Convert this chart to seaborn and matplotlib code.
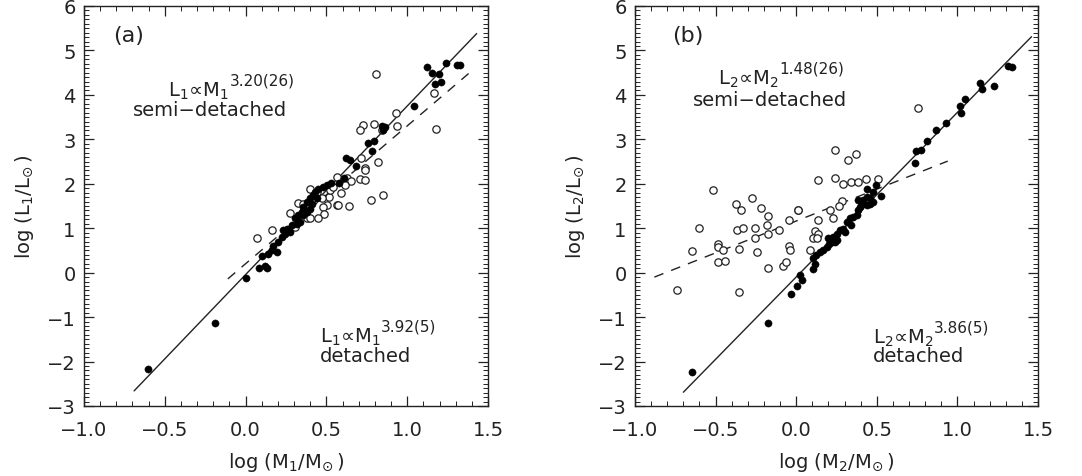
import numpy as np
import pandas as pd
import matplotlib
matplotlib.use("Agg")
import matplotlib.pyplot as plt
import seaborn as sns
from matplotlib.ticker import MultipleLocator

# ---------------- data ----------------
# Panel (a): primary components
a_det_x = [-0.606, -0.189, 0.002, 0.085, 0.120, 0.131, 0.100, 0.141, 0.162, 0.193, 0.171, 0.202,
           0.223, 0.244, 0.254, 0.275, 0.233, 0.285, 0.306, 0.326, 0.347, 0.357, 0.378, 0.398,
           0.419, 0.429, 0.450, 0.481, 0.502, 0.357, 0.337, 0.316, 0.408, 0.440, 0.398, 0.378,
           0.530, 0.580, 0.609, 0.619, 0.646, 0.681, 0.760, 0.780, 0.797, 0.842, 0.863, 0.852,
           1.042, 1.121, 1.151, 1.197, 1.238, 1.306, 1.327, 1.172, 1.209]
a_det_y = [-2.16, -1.13, -0.12, 0.11, 0.16, 0.11, 0.37, 0.43, 0.50, 0.47, 0.61, 0.69,
           0.80, 0.88, 0.99, 0.92, 0.95, 1.07, 1.22, 1.29, 1.37, 1.48, 1.59, 1.67,
           1.74, 1.82, 1.89, 1.93, 1.97, 1.29, 1.14, 1.10, 1.55, 1.68, 1.44, 1.37,
           2.02, 2.02, 2.14, 2.58, 2.53, 2.39, 2.91, 2.74, 2.97, 3.30, 3.28, 3.22,
           3.75, 4.62, 4.50, 4.47, 4.71, 4.67, 4.67, 4.24, 4.28]
a_semi_x = [0.072, 0.161, 0.807, 0.929, 0.729, 0.705, 0.797, 0.935, 1.166, 1.178, 0.842, 0.714,
            0.817, 0.739, 0.739, 0.708, 0.739, 0.564, 0.626, 0.650, 0.615, 0.588, 0.776, 0.852,
            0.641, 0.564, 0.574, 0.518, 0.506, 0.477, 0.485, 0.450, 0.398, 0.326, 0.353, 0.275,
            0.382, 0.398, 0.347, 0.306, 0.522, 0.543, 0.440, 0.471]
a_semi_y = [0.79, 0.95, 4.47, 3.60, 3.32, 3.22, 3.34, 3.30, 4.05, 3.24, 3.21, 2.57,
            2.49, 2.36, 2.32, 2.10, 2.09, 2.16, 2.13, 2.06, 1.97, 1.80, 1.64, 1.74,
            1.49, 1.53, 1.52, 1.70, 1.52, 1.48, 1.31, 1.22, 1.88, 1.57, 1.55, 1.34,
            1.22, 1.23, 1.33, 1.03, 1.85, 1.93, 1.82, 1.67]

# Panel (b): secondary components
b_det_x = [-0.648, -0.173, -0.034, 0.003, 0.038, 0.024, 0.106, 0.117, 0.106, 0.123, 0.148, 0.168,
           0.189, 0.205, 0.220, 0.241, 0.251, 0.199, 0.230, 0.251, 0.272, 0.292, 0.303, 0.313,
           0.334, 0.354, 0.375, 0.340, 0.385, 0.396, 0.406, 0.416, 0.385, 0.437, 0.458, 0.478,
           0.437, 0.458, 0.441, 0.478, 0.495, 0.526, 0.737, 0.743, 0.774, 0.809, 0.865, 0.929,
           1.016, 1.022, 1.047, 1.140, 1.155, 1.229, 1.316, 1.337]
b_det_y = [-2.24, -1.13, -0.47, -0.29, -0.17, -0.06, 0.09, 0.20, 0.32, 0.39, 0.47, 0.50,
           0.58, 0.65, 0.70, 0.69, 0.73, 0.77, 0.80, 0.88, 0.95, 0.99, 0.92, 1.14,
           1.22, 1.25, 1.29, 1.07, 1.40, 1.48, 1.55, 1.63, 1.63, 1.52, 1.55, 1.59,
           1.70, 1.67, 1.89, 1.82, 1.98, 1.73, 2.47, 2.74, 2.77, 2.97, 3.21, 3.37,
           3.75, 3.60, 3.90, 4.27, 4.13, 4.20, 4.66, 4.63]
b_semi_x = [-0.514, -0.603, -0.648, -0.738, -0.483, -0.483, -0.452, -0.483, -0.442, -0.373, -0.342,
            -0.272, -0.218, -0.173, -0.369, -0.332, -0.256, -0.183, -0.173, -0.105, -0.256, -0.355,
            -0.245, -0.173, -0.080, -0.063, -0.043, -0.038, -0.043, 0.009, -0.355, 0.241, 0.319,
            0.371, 0.133, 0.241, 0.292, 0.340, 0.385, 0.433, 0.506, 0.013, 0.133, 0.210, 0.226,
            0.282, 0.267, 0.117, 0.137, 0.102, 0.127, 0.086, 0.754]
b_semi_y = [1.85, 1.01, 0.49, -0.40, 0.65, 0.58, 0.52, 0.23, 0.26, 1.54, 1.40,
            1.69, 1.46, 1.27, 0.97, 1.01, 1.01, 1.07, 0.88, 0.95, 0.77, 0.53,
            0.47, 0.11, 0.16, 0.25, 0.61, 0.52, 1.19, 1.40, -0.44, 2.75, 2.53,
            2.66, 2.09, 2.12, 2.00, 2.03, 2.03, 2.10, 2.10, 1.42, 1.19, 1.40, 1.22,
            1.61, 1.50, 0.93, 0.86, 0.77, 0.77, 0.50, 3.71]

# fitted relations (end points)
a_fit_det_x = [-0.69, 1.43]
a_fit_det_y = [-2.66, 5.38]
a_fit_semi_x = [-0.11, 1.38]
a_fit_semi_y = [-0.14, 4.48]
b_fit_det_x = [-0.70, 1.46]
b_fit_det_y = [-2.69, 5.31]
b_fit_semi_x = [-0.88, 0.94]
b_fit_semi_y = [-0.10, 2.51]

x_ticks = [-1.0, -0.5, 0.0, 0.5, 1.0, 1.5]
y_ticks = [-3, -2, -1, 0, 1, 2, 3, 4, 5, 6]

# annotation texts
a_semi_exp = "3.20(26)"
a_det_exp = "3.92(5)"
b_semi_exp = "1.48(26)"
b_det_exp = "3.86(5)"

# ---------------- style ----------------
sns.set_style("ticks")
plt.rcParams["font.family"] = ["DejaVu Sans"]
plt.rcParams["mathtext.default"] = "regular"
INK = "#222222"

fig = plt.figure(figsize=(10.82, 4.77), dpi=100)
ax_a = fig.add_axes([84 / 1082, 1 - 407 / 477, 404 / 1082, 400 / 477])
ax_b = fig.add_axes([635 / 1082, 1 - 407 / 477, 403 / 1082, 400 / 477])

panels = [
    (ax_a, a_det_x, a_det_y, a_semi_x, a_semi_y, a_fit_det_x, a_fit_det_y, a_fit_semi_x, a_fit_semi_y, "1"),
    (ax_b, b_det_x, b_det_y, b_semi_x, b_semi_y, b_fit_det_x, b_fit_det_y, b_fit_semi_x, b_fit_semi_y, "2"),
]

for ax, dx, dy, sx, sy, fdx, fdy, fsx, fsy, idx in panels:
    sns.lineplot(x=fdx, y=fdy, ax=ax, color=INK, lw=1.0, sort=False, estimator=None)
    sns.lineplot(x=fsx, y=fsy, ax=ax, color=INK, lw=1.0, sort=False, estimator=None,
                 linestyle=(0, (7, 6)))
    sns.scatterplot(x=sx, y=sy, ax=ax, marker="o", s=28, facecolor="white",
                    edgecolor=INK, linewidth=0.9, zorder=3)
    sns.scatterplot(x=dx, y=dy, ax=ax, marker="o", s=27, color="black",
                    edgecolor="black", linewidth=0.3, zorder=4)

    ax.set_xlim(-1.0, 1.5)
    ax.set_ylim(-3, 6)
    ax.set_xticks(x_ticks)
    ax.set_xticklabels([f"{v:.1f}".replace("-", "\u2212") for v in x_ticks])
    ax.set_yticks(y_ticks)
    ax.set_yticklabels([str(v).replace("-", "\u2212") for v in y_ticks])
    ax.xaxis.set_minor_locator(MultipleLocator(0.1))
    ax.yaxis.set_minor_locator(MultipleLocator(0.1))
    ax.tick_params(which="both", direction="in", top=True, right=True, colors=INK,
                   labelsize=14, labelcolor=INK)
    ax.tick_params(which="major", length=7, width=0.9)
    ax.tick_params(which="minor", length=3.5, width=0.7)
    ax.tick_params(axis="x", which="major", pad=10)
    ax.tick_params(axis="y", which="major", pad=6)
    for sp in ax.spines.values():
        sp.set_color(INK)
        sp.set_linewidth(1.0)
    ax.set_xlabel(f"log (M$_{idx}$/M$_{{\\!\\odot}}$)", fontsize=14, color=INK, labelpad=8)
    ax.set_ylabel(f"log (L$_{idx}$/L$_{{\\!\\odot}}$)", fontsize=14, color=INK, labelpad=8)


def relation(ax, x, y, idx, exp):
    main = ax.text(x, y, f"L$_{idx}$\u221dM$_{idx}$", fontsize=14, color=INK,
                   ha="left", va="baseline")
    ax.annotate(exp, xy=(1.0, 1.0), xycoords=main, xytext=(0.5, -3.5),
                textcoords="offset points", fontsize=11, color=INK,
                ha="left", va="baseline")


txt = dict(fontsize=14, color=INK, ha="left", va="center")
# panel (a)
ax_a.text(-0.82, 5.34, "(a)", fontsize=16, color=INK, ha="left", va="center")
relation(ax_a, -0.48, 3.99, "1", a_semi_exp)
ax_a.text(-0.70, 3.67, "semi\u2212detached", **txt)
relation(ax_a, 0.46, -1.55, "1", a_det_exp)
ax_a.text(0.46, -1.87, "detached", **txt)
# panel (b)
ax_b.text(-0.77, 5.34, "(b)", fontsize=16, color=INK, ha="left", va="center")
relation(ax_b, -0.485, 4.26, "2", b_semi_exp)
ax_b.text(-0.64, 3.90, "semi\u2212detached", **txt)
relation(ax_b, 0.476, -1.58, "2", b_det_exp)
ax_b.text(0.476, -1.87, "detached", **txt)

fig.savefig("out.png", dpi=100)
